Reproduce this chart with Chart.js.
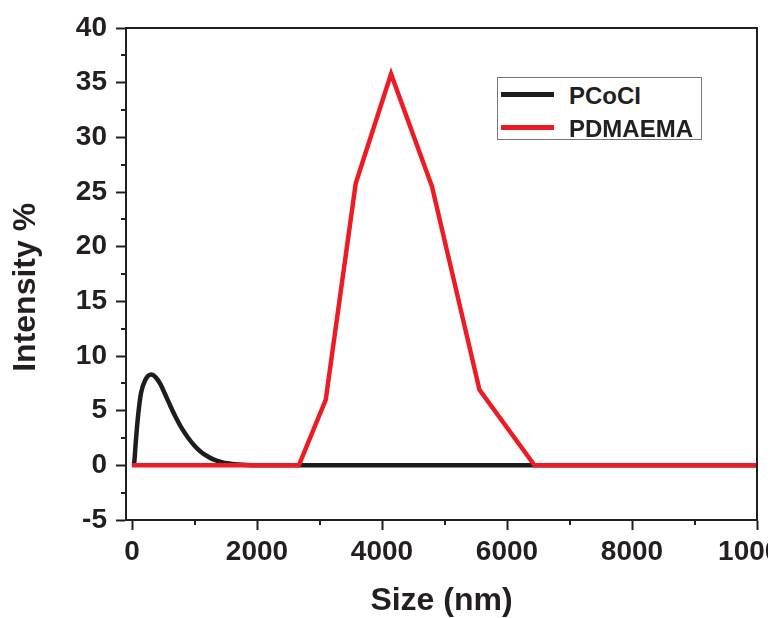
<!DOCTYPE html>
<html>
<head>
<meta charset="utf-8">
<script src="https://cdn.jsdelivr.net/npm/chart.js@4.4.1/dist/chart.umd.min.js"></script>
<style>
  html, body { margin: 0; padding: 0; background: #fff; }
  #wrap { position: relative; width: 771px; height: 618px; overflow: hidden; }
  #area { position: absolute; left: 0; top: 0; width: 768px; height: 618px; }
  #legenda { position: absolute; left: 497px; top: 77px; width: 205px; height: 63px;
    border: 1px solid #777; box-sizing: border-box; background: #fff; }
  .leg-item { position: absolute; left: 0; height: 24px; width: 100%; }
  .leg-linha { position: absolute; left: 3px; top: 10px; width: 53px; height: 5px; }
  .leg-texto { position: absolute; left: 71px; top: 0; line-height: 24px; font: bold 24px 'Liberation Sans', Arial, sans-serif; color: #231f20; white-space: nowrap; }
</style>
</head>
<body>
<div id="wrap">
  <div id="area"><canvas id="grafico"></canvas></div>
  <div id="legenda"></div>
</div>
<script>
// PCoCI: curva suave (DLS)
const PCOCI_SIZE = [30, 40, 60, 80, 106, 144, 212, 308, 380, 452, 530, 612, 700, 800, 900, 1000, 1100, 1200, 1300, 1420, 1550, 1700, 1850, 2000, 10000];
const PCOCI_INT  = [0, 0.5, 2.1, 3.5, 5.0, 6.6, 7.8, 8.3, 8.05, 7.45, 6.5, 5.45, 4.4, 3.35, 2.5, 1.8, 1.25, 0.85, 0.55, 0.32, 0.16, 0.07, 0.02, 0, 0];
// PDMAEMA: segmentos retos
const PDMAEMA_SIZE = [0, 2670, 3100, 3580, 4145, 4800, 5560, 6440, 10000];
const PDMAEMA_INT  = [0, 0, 6.0, 25.8, 35.8, 25.5, 6.9, 0, 0];

const X_TICKS = [0, 2000, 4000, 6000, 8000, 10000];
const X_MINOR = [1000, 3000, 5000, 7000, 9000];
const Y_TICKS = [-5, 0, 5, 10, 15, 20, 25, 30, 35, 40];
const Y_MINOR = [-2.5, 2.5, 7.5, 12.5, 17.5, 22.5, 27.5, 32.5, 37.5];

const FONTE = "'Liberation Sans', Arial, sans-serif";
const COR_EIXO = '#231f20';

const pontos = (xs, ys) => xs.map((x, i) => ({ x, y: ys[i] }));

const datasets = [
  {
    label: 'PCoCI',
    data: pontos(PCOCI_SIZE, PCOCI_INT),
    borderColor: '#1e1c1d', borderWidth: 4.5,
    pointRadius: 0, cubicInterpolationMode: 'monotone',
    order: 2
  },
  {
    label: 'PDMAEMA',
    data: pontos(PDMAEMA_SIZE, PDMAEMA_INT),
    borderColor: '#ed1c24', borderWidth: 4.5,
    pointRadius: 0, tension: 0,
    order: 1
  }
];

// ticks menores + moldura superior/direita
const moldura = {
  id: 'moldura',
  afterDraw(chart) {
    const { ctx, chartArea: a, scales } = chart;
    ctx.save();
    ctx.strokeStyle = COR_EIXO;
    ctx.lineWidth = 2;
    ctx.beginPath();
    ctx.moveTo(a.left, a.top); ctx.lineTo(a.right, a.top); ctx.lineTo(a.right, a.bottom);
    X_MINOR.forEach(v => {
      const px = Math.round(scales.x.getPixelForValue(v));
      ctx.moveTo(px, a.bottom); ctx.lineTo(px, a.bottom + 5);
    });
    Y_MINOR.forEach(v => {
      const py = Math.round(scales.y.getPixelForValue(v));
      ctx.moveTo(a.left, py); ctx.lineTo(a.left - 5, py);
    });
    ctx.stroke();
    ctx.restore();
  }
};

new Chart(document.getElementById('grafico'), {
  type: 'line',
  data: { datasets },
  plugins: [moldura],
  options: {
    responsive: true, maintainAspectRatio: false, animation: false,
    layout: { padding: { top: 28, right: 11, left: 0, bottom: 0 } },
    plugins: { legend: { display: false }, tooltip: { enabled: false } },
    scales: {
      x: {
        type: 'linear', min: -96, max: 10000,
        afterBuildTicks: s => { s.ticks = X_TICKS.map(v => ({ value: v })); },
        afterFit: s => { s.height = 98; s.paddingLeft = 0; s.paddingRight = 0; },
        grid: { drawOnChartArea: false, tickLength: 10, tickWidth: 2, tickColor: COR_EIXO },
        border: { display: true, width: 2, color: COR_EIXO },
        ticks: { autoSkip: false, maxRotation: 0, padding: 5, color: COR_EIXO,
          callback: v => String(v),
          font: { family: FONTE, size: 28, weight: 'bold' } },
        title: { display: true, text: 'Size (nm)', color: COR_EIXO, padding: { top: 0, bottom: 1 },
          font: { family: FONTE, size: 32, weight: 'bold', lineHeight: 1 } }
      },
      y: {
        min: -5, max: 40,
        afterBuildTicks: s => { s.ticks = Y_TICKS.map(v => ({ value: v })); },
        afterFit: s => { s.width = 126; },
        grid: { drawOnChartArea: false, tickLength: 10, tickWidth: 2, tickColor: COR_EIXO },
        border: { display: true, width: 2, color: COR_EIXO },
        ticks: { padding: 9, color: COR_EIXO, callback: v => String(v),
          font: { family: FONTE, size: 28, weight: 'bold' } },
        title: { display: true, text: 'Intensity %   ', color: COR_EIXO, padding: { top: 10, bottom: 0 },
          font: { family: FONTE, size: 32, weight: 'bold', lineHeight: 1 } }
      }
    }
  }
});

// legenda em HTML, com borda, dentro da area do grafico
function renderLegenda() {
  const el = document.getElementById('legenda');
  const centros = [16, 49];
  el.innerHTML = datasets.map((d, i) => `
    <div class="leg-item" style="top:${centros[i] - 12}px">
      <span class="leg-linha" style="background:${d.borderColor}"></span>
      <span class="leg-texto">${d.label}</span>
    </div>`).join('');
}
renderLegenda();
</script>
</body>
</html>
